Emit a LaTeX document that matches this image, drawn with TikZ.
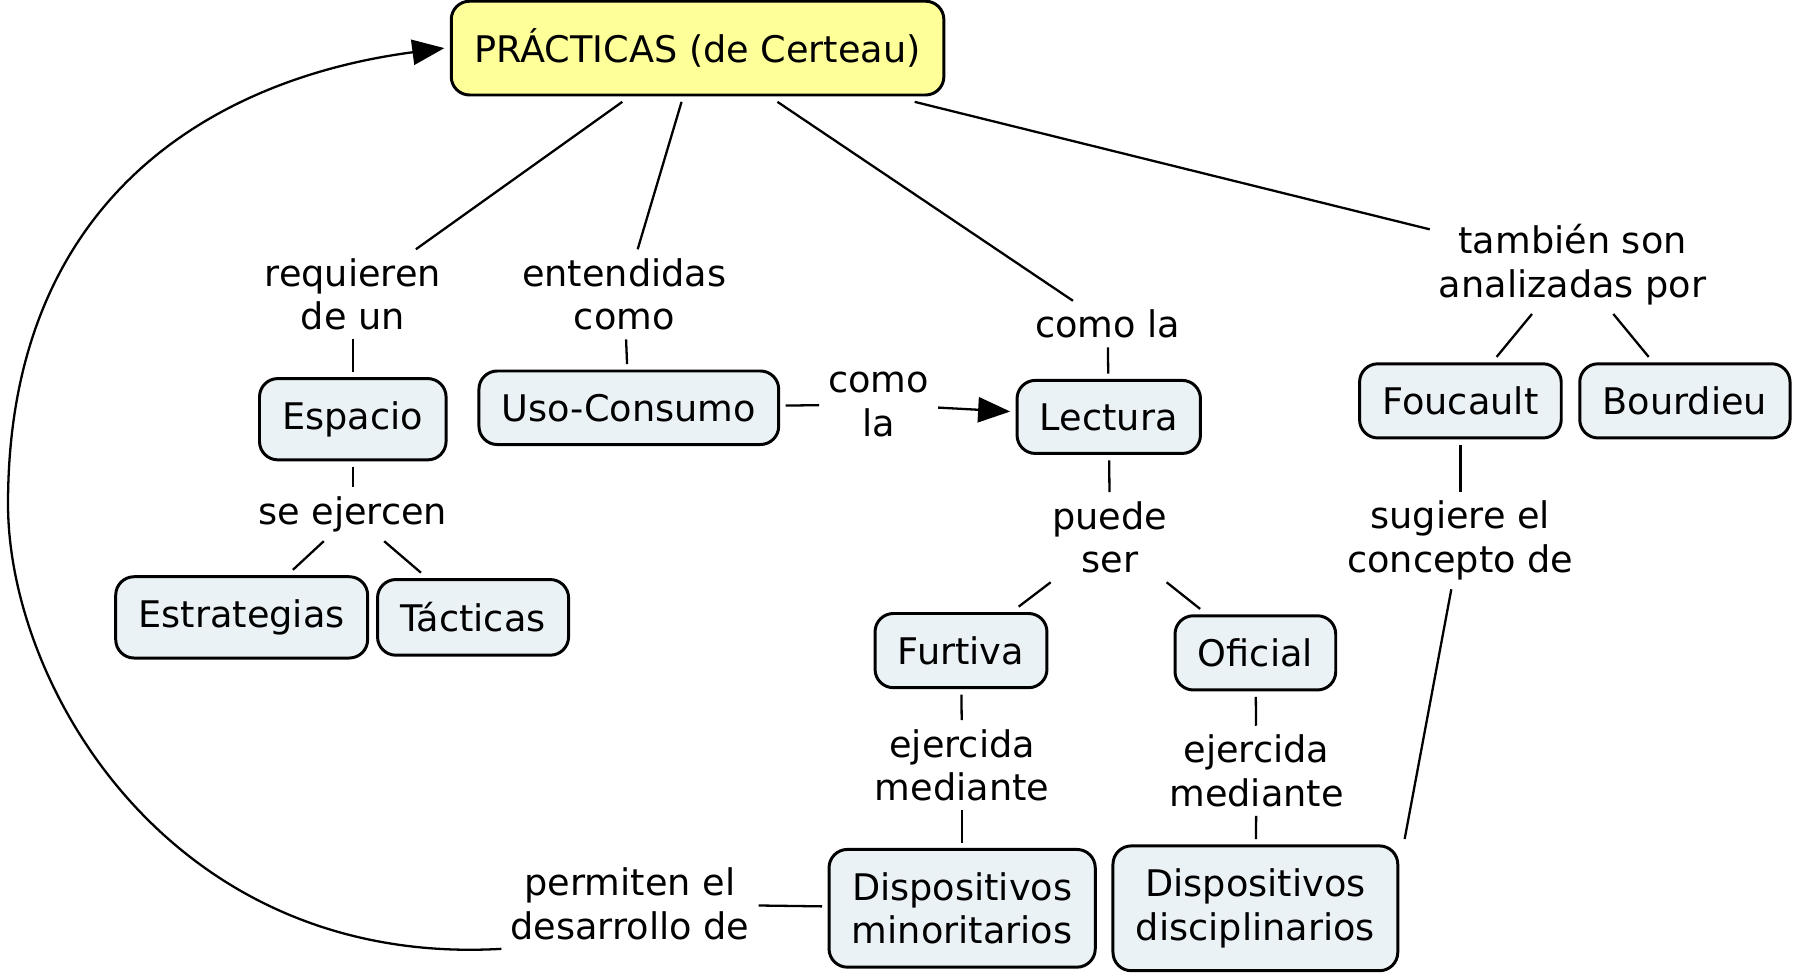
\documentclass[tikz,border=0pt]{standalone}
\usepackage{fontspec}
\setmainfont{DejaVu Sans}
\usetikzlibrary{arrows.meta}

\definecolor{mainyellow}{RGB}{255,255,153}
\definecolor{conceptblue}{RGB}{235,242,245}

\begin{document}
\begin{tikzpicture}[x=0.5pt, y=-0.5pt,
            % Styles
            concept/.style={rectangle, draw=black, fill=conceptblue, line width=1.3pt, rounded corners=8pt, align=center, inner xsep=10pt, inner ysep=10pt, outer sep=3pt, font=\fontsize{16}{19}\selectfont},
            mainconcept/.style={concept, fill=mainyellow, inner ysep=12pt},
            linkword/.style={align=center, inner sep=2pt, outer sep=2pt, font=\fontsize{16}{19}\selectfont},
            line/.style={draw, line width=1pt},
            arrowline/.style={draw, line width=1pt, -{Triangle[length=14pt, width=11pt]}}
        ]

        \useasboundingbox (0,0) rectangle (1568,854);

        % Main concept
        \node [mainconcept] (practicas) at (609,42) {PRÁCTICAS (de Certeau)};

        % Concepts
        \node [concept] (espacio) at (308,366) {Espacio};
        \node [concept] (uso) at (549,356) {Uso-Consumo};
        \node [concept] (lectura) at (968,364) {Lectura};
        \node [concept] (foucault) at (1275,350) {Foucault};
        \node [concept] (bourdieu) at (1471,350) {Bourdieu};
        \node [concept] (estrategias) at (211,539) {Estrategias};
        \node [concept] (tacticas) at (413,539) {Tácticas};
        \node [concept] (furtiva) at (839,568) {Furtiva};
        \node [concept] (oficial) at (1096,570) {Oficial};
        \node [concept] (minoritarios) at (840,793) {Dispositivos\\minoritarios};
        \node [concept] (disciplinarios) at (1096,793) {Dispositivos\\disciplinarios};

        % Linking words
        \node [linkword] (requieren) at (308,257) {requieren\\de un};
        \node [linkword] (entendidas) at (545,257) {entendidas\\como};
        \node [linkword] (comolaA) at (967,283) {como la};
        \node [linkword] (tambien) at (1373,231) {también son\\analizadas por};
        \node [linkword] (comolaB) at (767,353) {como\\la};
        \node [linkword] (seejercen) at (308,449) {se ejercen};
        \node [linkword] (puede) at (969,469) {puede\\ser};
        \node [linkword] (sugiere) at (1275,472) {sugiere el\\concepto de};
        \node [linkword] (ejercidaA) at (840,668) {ejercida\\mediante};
        \node [linkword] (ejercidaB) at (1097,673) {ejercida\\mediante};
        \node [linkword] (permiten) at (550,789) {permiten el\\desarrollo de};

        % Edges
        \path [line] (practicas) -- (requieren);
        \path [line] (practicas) -- (entendidas);
        \path [line] (practicas) -- (comolaA);
        \path [line] (practicas) -- (tambien);
        \path [line] (requieren) -- (espacio);
        \path [line] (entendidas) -- (uso);
        \path [line] (comolaA) -- (lectura);
        \path [line] (tambien) -- (foucault);
        \path [line] (tambien) -- (bourdieu);
        \path [line] (uso) -- (comolaB);
        \path [arrowline] (comolaB) -- (lectura);
        \path [line] (espacio) -- (seejercen);
        \path [line] (seejercen) -- (estrategias);
        \path [line] (seejercen) -- (tacticas);
        \path [line] (lectura) -- (puede);
        \path [line] (puede) -- (furtiva);
        \path [line] (puede) -- (oficial);
        \path [line] (foucault) -- (sugiere);
        \path [line] (sugiere) -- (disciplinarios.north east);
        \path [line] (furtiva) -- (ejercidaA);
        \path [line] (ejercidaA) -- (minoritarios);
        \path [line] (oficial) -- (ejercidaB);
        \path [line] (ejercidaB) -- (disciplinarios);
        \path [line] (minoritarios) -- (permiten);

        % Loop back to the main concept
        \path [arrowline] (permiten.south west) .. controls (150,845) and (7,600) .. (7,440)
            .. controls (7,170) and (190,68) .. (practicas.west);

    \end{tikzpicture}
\end{document}
